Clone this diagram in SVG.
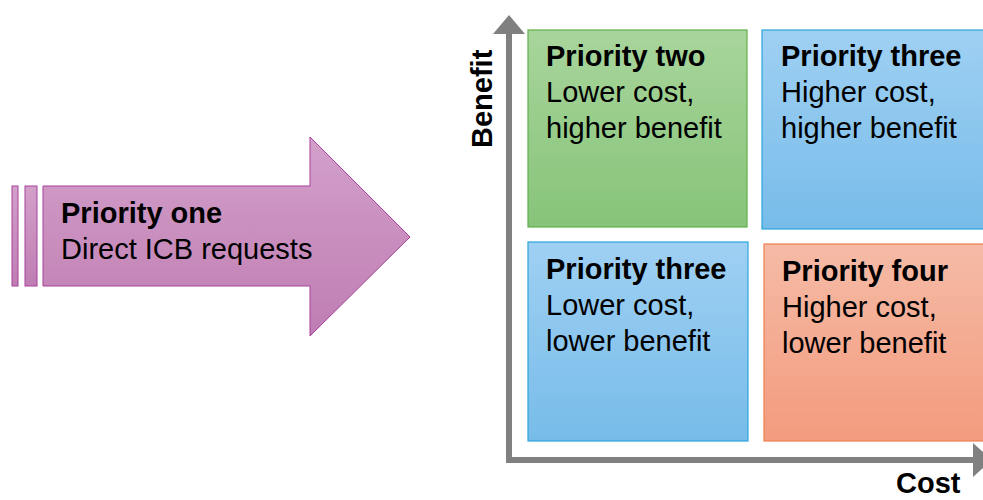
<svg xmlns="http://www.w3.org/2000/svg" width="983" height="500" viewBox="0 0 983 500">
<style>
text{font-family:"Liberation Sans",Arial,sans-serif;font-size:29px;fill:#000}
.b{font-weight:bold}
</style>
<defs>
<linearGradient id="gP" x1="0" y1="0" x2="0" y2="1"><stop offset="0" stop-color="#d3a0ca"/><stop offset="1" stop-color="#bf7db2"/></linearGradient>
<linearGradient id="gG" x1="0" y1="0" x2="0" y2="1"><stop offset="0" stop-color="#a8d59c"/><stop offset="1" stop-color="#87c479"/></linearGradient>
<linearGradient id="gB" x1="0" y1="0" x2="0" y2="1"><stop offset="0" stop-color="#9fd0f3"/><stop offset="1" stop-color="#77bce9"/></linearGradient>
<linearGradient id="gO" x1="0" y1="0" x2="0" y2="1"><stop offset="0" stop-color="#f5bba6"/><stop offset="1" stop-color="#f39b7e"/></linearGradient>
</defs>
<g id="connectors">
<path d="M509,32 V460 H974" fill="none" stroke="#808080" stroke-width="6"/>
<polygon points="493,34 525,34 509,15" fill="#808080"/>
<polygon points="973,443 973,477 992,460" fill="#808080"/>
</g>
<g id="priority-one">
<rect x="12" y="186" width="6" height="100" fill="url(#gP)" stroke="#a7409a" stroke-width="1"/>
<rect x="25" y="186" width="12" height="100" fill="url(#gP)" stroke="#a7409a" stroke-width="1"/>
<polygon points="43,186 310,186 310,137 410,237 310,336 310,286 43,286" fill="url(#gP)" stroke="#a7409a" stroke-width="1"/>
<text x="61" y="223" class="b">Priority one</text>
<text x="61" y="259">Direct ICB requests</text>
</g>
<g id="priority-two">
<rect x="528" y="30" width="219" height="197" fill="url(#gG)" stroke="#5fb04a" stroke-width="1.2"/>
<text x="546" y="66" class="b">Priority two</text>
<text x="546" y="102">Lower cost,</text>
<text x="546" y="138">higher benefit</text>
</g>
<g id="priority-three-top">
<rect x="762" y="30" width="225" height="199" fill="url(#gB)" stroke="#2ba5dd" stroke-width="1.2"/>
<text x="781" y="66" class="b">Priority three</text>
<text x="781" y="102">Higher cost,</text>
<text x="781" y="138">higher benefit</text>
</g>
<g id="priority-three-bottom">
<rect x="528" y="242" width="220" height="199" fill="url(#gB)" stroke="#2ba5dd" stroke-width="1.2"/>
<text x="546" y="279" class="b">Priority three</text>
<text x="546" y="315">Lower cost,</text>
<text x="546" y="351">lower benefit</text>
</g>
<g id="priority-four">
<rect x="764" y="244" width="225" height="197" fill="url(#gO)" stroke="#ef7f4d" stroke-width="1.2"/>
<text x="782" y="281" class="b">Priority four</text>
<text x="782" y="317">Higher cost,</text>
<text x="782" y="353">lower benefit</text>
</g>
<g id="axis-labels">
<text class="b" transform="translate(492,148) rotate(-90)">Benefit</text>
<text class="b" x="896" y="493">Cost</text>
</g>
</svg>
